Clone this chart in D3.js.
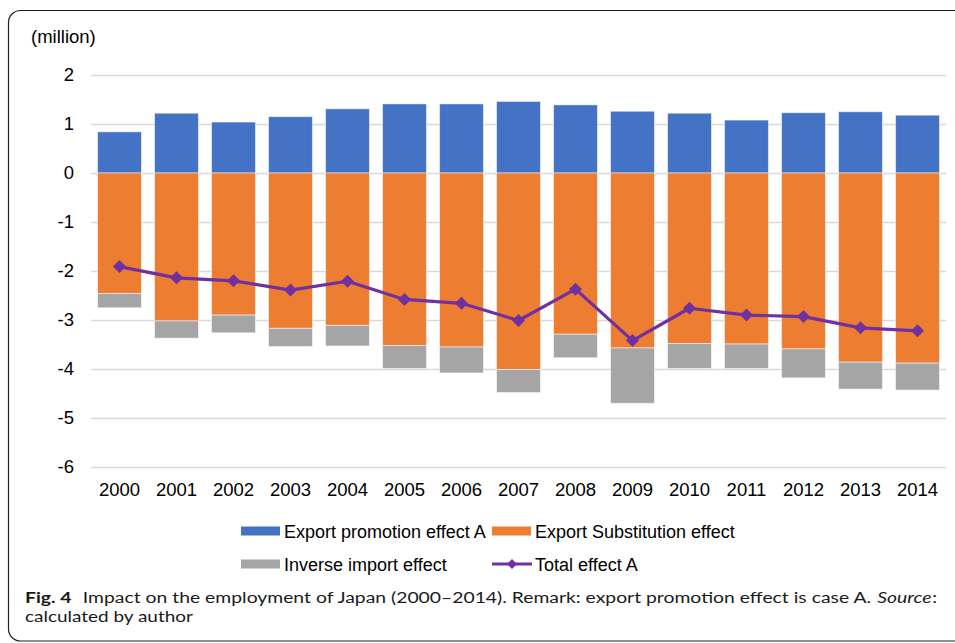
<!DOCTYPE html>
<html>
<head>
<meta charset="utf-8">
<script src="https://cdn.jsdelivr.net/npm/d3@7"></script>
<style>
  body { margin: 0; background: #fff; }
  svg { display: block; }
</style>
</head>
<body>
<div id="chart"></div>
<script>
// data (million persons)
var years = ["2000","2001","2002","2003","2004","2005","2006","2007","2008","2009","2010","2011","2012","2013","2014"];
var promotion = [0.84, 1.22, 1.04, 1.15, 1.31, 1.41, 1.41, 1.46, 1.39, 1.26, 1.22, 1.08, 1.23, 1.25, 1.18];
var substitution = [-2.46, -3.02, -2.90, -3.17, -3.11, -3.52, -3.55, -4.01, -3.29, -3.57, -3.48, -3.49, -3.59, -3.86, -3.88];
var inverseImport = [-0.29, -0.35, -0.36, -0.37, -0.42, -0.47, -0.53, -0.47, -0.48, -1.13, -0.51, -0.50, -0.59, -0.55, -0.55];
var total = [-1.91, -2.14, -2.20, -2.39, -2.21, -2.58, -2.66, -3.01, -2.37, -3.42, -2.76, -2.90, -2.93, -3.16, -3.22];
var yTicks = [2, 1, 0, -1, -2, -3, -4, -5, -6];

var w = 955, h = 643;
var svg = d3.select("#chart").append("svg").attr("width", w).attr("height", h);

// frame of the figure (right side runs off the picture)
svg.append("rect")
  .attr("x", 8.5).attr("y", 10.5).attr("width", 1000).attr("height", 630.5)
  .attr("rx", 12).attr("ry", 12)
  .attr("fill", "none").attr("stroke", "#222").attr("stroke-width", 1.2);

var x = d3.scaleBand().domain(years).range([91, 946]).paddingInner(0.23).paddingOuter(0.115);
var y = d3.scaleLinear().domain([-6, 2]).range([467, 75]);

var font = "'Liberation Sans', Arial, sans-serif";

// grid
svg.append("g").selectAll("line").data(yTicks).enter().append("line")
  .attr("x1", 91).attr("x2", 946)
  .attr("y1", function(d) { return Math.round(y(d)) + 0.5; })
  .attr("y2", function(d) { return Math.round(y(d)) + 0.5; })
  .attr("stroke", "#d9d9d9").attr("stroke-width", 1.5);

// y axis labels
var yAxis = d3.axisLeft(y).tickValues(yTicks).tickSize(0).tickPadding(0);
var gy = svg.append("g").attr("transform", "translate(74,0)").call(yAxis);
gy.select(".domain").remove();
gy.selectAll("text").attr("font-family", font).attr("font-size", 18.5).attr("fill", "#000")
  .text(function(d) { return d < 0 ? "-" + Math.abs(d) : d; });

// x axis labels
var xAxis = d3.axisBottom(x).tickSize(0).tickPadding(0);
var gx = svg.append("g").attr("transform", "translate(0,483)").call(xAxis);
gx.select(".domain").remove();
gx.selectAll("text").attr("font-family", font).attr("font-size", 18.5).attr("fill", "#000");

svg.append("text").attr("x", 31).attr("y", 43).attr("font-family", font).attr("font-size", 18.5)
  .text("(million)");

var colors = { blue: "#4472c4", orange: "#ed7d31", gray: "#a5a5a5", purple: "#7030a0" };

// bars
function bars(vals, base, color) {
  svg.append("g").selectAll("rect").data(vals).enter().append("rect")
    .attr("x", function(d, i) { return x(years[i]); })
    .attr("width", x.bandwidth())
    .attr("y", function(d, i) { var b = base ? base[i] : 0; return Math.min(y(b), y(b + d)); })
    .attr("height", function(d, i) { var b = base ? base[i] : 0; return Math.abs(y(b + d) - y(b)); })
    .attr("fill", color).attr("stroke", "#fff").attr("stroke-opacity", 0.5).attr("stroke-width", 1);
}
bars(promotion, null, colors.blue);
bars(substitution, null, colors.orange);
bars(inverseImport, substitution, colors.gray);

// total line
var line = d3.line()
  .x(function(d, i) { return x(years[i]) + x.bandwidth() / 2; })
  .y(function(d) { return y(d); });
svg.append("path").datum(total).attr("d", line)
  .attr("fill", "none").attr("stroke", colors.purple).attr("stroke-width", 3.2).attr("stroke-linejoin", "round");
var diamond = "M0,-6.5L6.5,0L0,6.5L-6.5,0Z";
svg.append("g").selectAll("path").data(total).enter().append("path")
  .attr("d", diamond)
  .attr("transform", function(d, i) { return "translate(" + (x(years[i]) + x.bandwidth() / 2) + "," + y(d) + ")"; })
  .attr("fill", colors.purple);

// legend
var legend = [
  { label: "Export promotion effect A", color: colors.blue, x: 241, y: 531, type: "bar" },
  { label: "Export Substitution effect", color: colors.orange, x: 492, y: 531, type: "bar" },
  { label: "Inverse import effect", color: colors.gray, x: 241, y: 564, type: "bar" },
  { label: "Total effect A", color: colors.purple, x: 492, y: 564, type: "line" }
];
var lg = svg.append("g").selectAll("g").data(legend).enter().append("g")
  .attr("transform", function(d) { return "translate(" + d.x + "," + d.y + ")"; });
lg.filter(function(d) { return d.type === "bar"; }).append("rect")
  .attr("x", 0).attr("y", -4.5).attr("width", 39).attr("height", 9).attr("fill", function(d) { return d.color; });
lg.filter(function(d) { return d.type === "line"; }).append("line")
  .attr("x1", 0).attr("x2", 40).attr("y1", 0).attr("y2", 0)
  .attr("stroke", function(d) { return d.color; }).attr("stroke-width", 3);
lg.filter(function(d) { return d.type === "line"; }).append("path")
  .attr("d", "M0,-5L5,0L0,5L-5,0Z").attr("transform", "translate(20,0)").attr("fill", function(d) { return d.color; });
lg.append("text").attr("x", 43).attr("y", 6.5).attr("font-family", font).attr("font-size", 18)
  .text(function(d) { return d.label; });

// caption: pieces laid out one after another, then fitted to the journal line width
var capFont = "Lato, 'Open Sans', sans-serif";
function caption(yPos, width, parts) {
  var g = svg.append("g");
  var cx = 0;
  parts.forEach(function(p) {
    var t = g.append("text").attr("x", cx).attr("y", 0).attr("font-family", capFont)
      .attr("font-size", 15.5).attr("fill", "#1a1a1a")
      .attr("font-weight", p.bold ? "bold" : null)
      .attr("font-style", p.italic ? "italic" : null)
      .text(p.text);
    cx += t.node().getComputedTextLength() + (p.gap || 0);
  });
  g.attr("transform", "translate(25," + yPos + ") scale(" + (width / cx) + ",1)");
}
caption(602.5, 912, [
  { text: "Fig. 4", bold: true, gap: 9 },
  { text: "Impact on the employment of Japan (2000\u20132014). Remark: export promotion effect is case A.", gap: 4.5 },
  { text: "Source", italic: true, gap: 0.5 },
  { text: ":" }
]);
caption(622, 168, [{ text: "calculated by author" }]);
</script>
</body>
</html>
